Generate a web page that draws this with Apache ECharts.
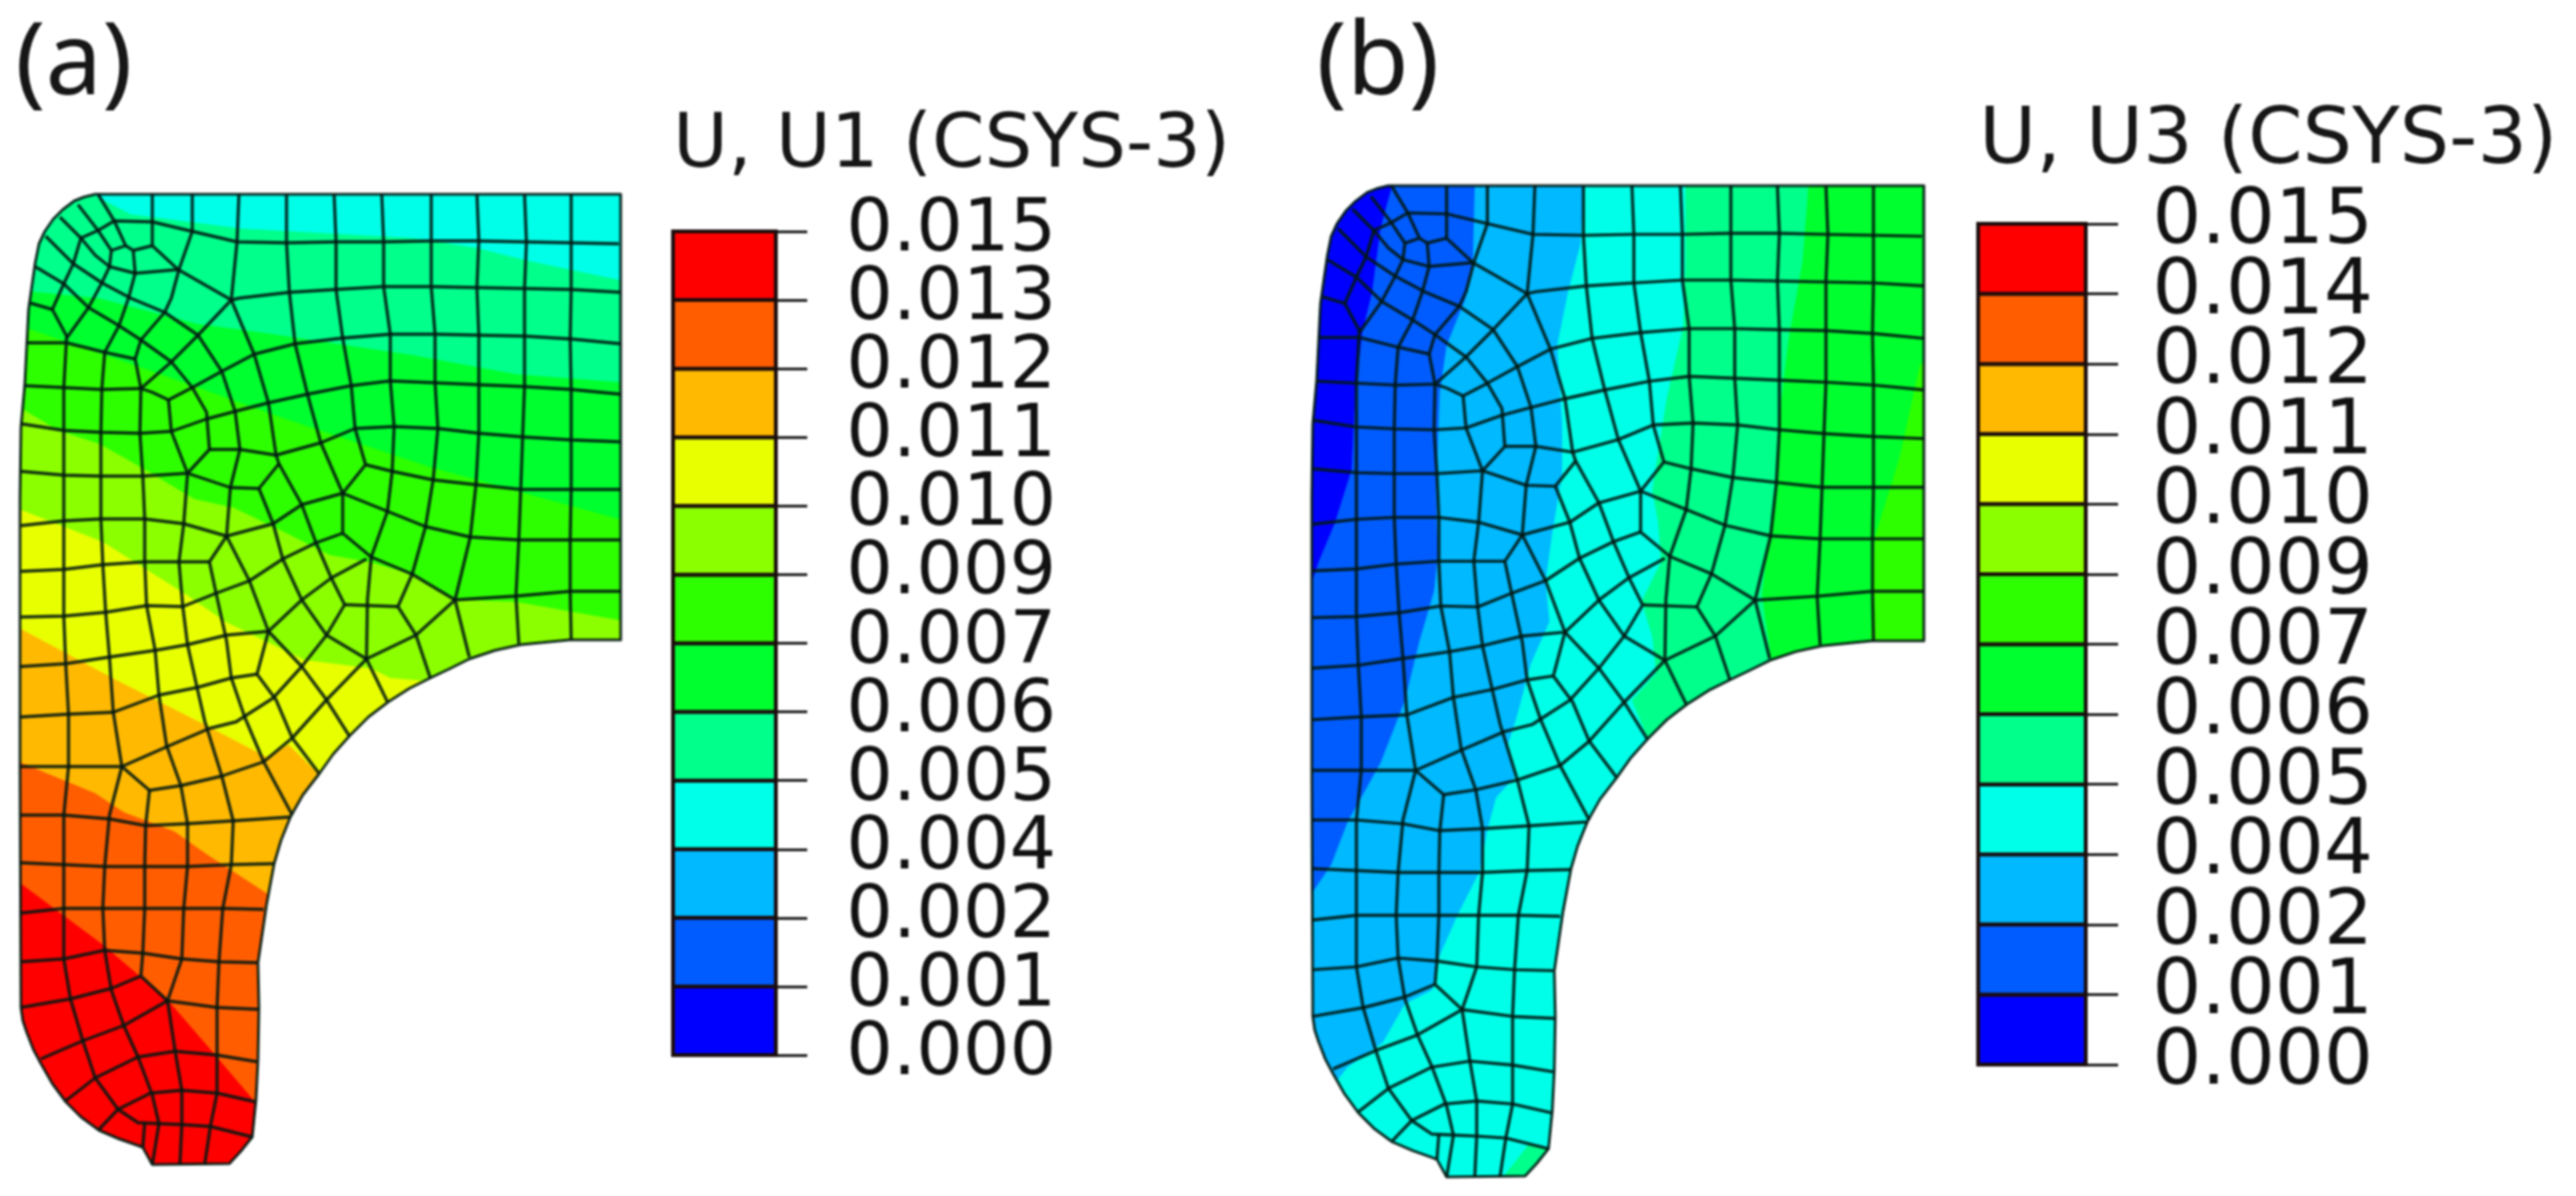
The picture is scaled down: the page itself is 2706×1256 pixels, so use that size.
<!DOCTYPE html>
<html>
<head>
<meta charset="utf-8">
<style>html,body{margin:0;padding:0;background:#fff}#c{width:2706px;height:1256px;filter:blur(0.9px)}</style>
<script src="https://cdn.jsdelivr.net/npm/echarts@6/dist/echarts.min.js"></script>
</head>
<body>
<div id="c"></div>
<script>
// Legend values, top to bottom
const tickLabelsA = ['0.015','0.013','0.012','0.011','0.010','0.009','0.007','0.006','0.005','0.004','0.002','0.001','0.000'];
const tickLabelsB = ['0.015','0.014','0.012','0.011','0.010','0.009','0.007','0.006','0.005','0.004','0.002','0.001','0.000'];
// Contour colours, lowest band first
const bandColors = ['#0000ff','#005cff','#00b9ff','#00ffe8','#00ff8b','#00ff2e','#2eff00','#8bff00','#e8ff00','#ffb900','#ff5d00','#ff0000'];

// Part outline, in model units
const outline = [[652,204],[100,204],[88,207],[78,211],[66,220],[56,230],[47,243],[41,256],[37,276],[30,325],[26,404],[22,449],[21,524],[21,700],[21,805],[22,1058],[24,1072],[28,1084],[35,1102],[43,1117],[55,1138],[69,1157],[85,1173],[104,1187],[125,1196],[145,1203],[150,1205],[160,1223],[241,1222],[253,1209],[265,1194],[269,1154],[271,1113],[272,1058],[271,1011],[280,950],[288,907],[295,883],[305,858],[318,835],[335,813],[350,792],[367,773],[387,753],[408,737],[430,723],[452,712],[473,702],[493,692],[520,683],[547,677],[598,672],[652,672]];

// Element edges of the mesh, in model units
const meshColumns = [
 [[600,204],[600,255],[600,304],[599,356],[600,409],[600,462],[600,514],[599,567],[599,621],[600,672]],
 [[551,204],[553,254],[551,303],[551,353],[551,406],[549,459],[547,514],[545,567],[542,626],[545,676]],
 [[501,204],[503,253],[501,302],[503,352],[503,404],[503,455],[500,509],[494,564],[478,630],[493,690]],
 [[453,204],[453,253],[453,301],[457,351],[457,402],[460,450],[455,504],[447,553],[433,603],[418,637],[437,667],[452,712]],
 [[401,204],[403,254],[403,301],[410,351],[410,400],[414,448],[412,495],[407,537],[390,585],[386,630],[385,692],[407,737]],
 [[351,204],[353,254],[353,304],[360,355],[369,405],[373,450],[384,488],[360,518]],
 [[301,204],[301,255],[304,307],[310,361],[323,414],[337,465],[360,518],[360,560],[390,585],[433,603],[478,630]],
 [[251,204],[249,254],[243,315],[267,372],[282,423],[290,478],[293,487],[317,530],[332,570],[348,607],[362,635],[343,667],[317,700],[287,733],[248,758],[220,765],[178,783],[128,805],[115,856],[110,910],[108,954],[110,998],[117,1040],[130,1077],[145,1110],[160,1150],[167,1180],[160,1223]],
 [[202,204],[202,243],[188,283],[180,313],[173,328],[148,357],[142,377],[148,408],[147,455],[150,500],[152,545],[152,590],[154,636],[163,683],[167,730],[175,783],[190,825],[197,865],[197,910],[193,954],[191,1007],[176,1051],[184,1104],[191,1145],[191,1181],[189,1223]],
 [[160,204],[160,233],[160,258],[187,283],[243,315]],
 [[103,204],[120,232],[132,258],[117,263],[115,280],[107,297],[93,323],[70,355]],
 [[140,263],[142,287],[135,313],[125,342],[110,370],[107,408],[106,454],[106,500],[106,545],[108,593],[111,643],[115,690],[119,748],[128,805]],
 [[157,830],[153,867],[152,910],[152,954],[150,1001],[148,1025],[176,1051]],
 [[243,315],[208,352],[180,380],[148,408]],
 [[180,453],[197,497]],
 [[177,420],[180,453]],
 [[150,1205],[152,1179]],
 [[282,663],[270,708],[290,735],[307,775],[335,812]]
];
const meshRows = [
 [[650,256],[600,255],[551,254],[501,253],[453,253],[403,254],[353,254],[301,255],[249,254],[202,243],[160,233],[120,232],[103,242],[85,250],[77,277],[67,298],[55,325],[70,353],[67,407],[67,452],[67,499],[67,547],[67,598],[67,647],[69,697],[72,750],[72,805],[67,856],[67,908],[67,954],[67,1007],[74,1049],[87,1093],[100,1132],[124,1165],[145,1179],[167,1180]],
 [[652,307],[600,304],[551,303],[501,302],[453,301],[403,301],[353,304],[304,307],[252,313],[243,315]],
 [[652,361],[600,356],[551,353],[503,352],[457,351],[410,351],[360,355],[310,361],[267,372],[233,390],[202,407],[177,420],[160,412],[148,408],[107,409],[67,407],[26,405]],
 [[652,414],[600,409],[551,406],[503,404],[457,402],[410,400],[369,405],[323,414],[282,423],[247,432],[217,440],[180,453],[147,455],[106,454],[67,452],[22,445]],
 [[652,464],[600,462],[551,459],[503,455],[460,450],[414,448],[373,450],[337,465],[290,478],[252,472],[220,472]],
 [[293,487],[272,513],[242,512],[197,497],[150,500],[106,500],[67,499],[22,495]],
 [[652,514],[600,514],[547,514],[500,509],[455,504],[412,495],[384,488]],
 [[652,567],[599,567],[545,567],[494,564],[447,553],[407,537],[360,518],[317,530],[287,550],[238,563],[193,550],[152,545],[106,545],[67,547],[22,552]],
 [[272,513],[287,550],[297,587],[317,630],[343,667],[385,692]],
 [[360,560],[332,570],[297,587],[262,610],[227,623],[192,637],[154,636],[111,643],[67,647],[22,648]],
 [[238,563],[262,610],[282,663],[317,700],[343,735],[367,773]],
 [[220,590],[188,590],[152,590],[108,593],[67,598],[22,600]],
 [[652,621],[599,621],[542,626],[478,630],[437,667],[385,692],[343,735],[307,775],[277,800],[233,815],[190,825],[157,830],[128,805],[100,805],[21,805]],
 [[385,587],[348,607],[317,630],[282,663],[238,667],[197,677],[163,683],[115,690],[69,697],[21,700]],
 [[362,635],[418,637]],
 [[270,708],[243,712],[207,722],[167,730],[119,748],[72,750],[21,753]],
 [[21,856],[67,856],[115,860],[153,867],[197,865],[245,862],[305,858]],
 [[21,906],[67,908],[110,910],[152,910],[197,910],[243,908],[288,907]],
 [[21,959],[67,954],[108,954],[152,954],[193,954],[234,954],[277,955]],
 [[22,1010],[67,1007],[110,998],[150,1001],[191,1007],[230,1010],[270,1011]],
 [[22,1058],[74,1049],[117,1038],[148,1025]],
 [[43,1112],[87,1093],[130,1077],[176,1051],[228,1058],[272,1060]],
 [[69,1156],[100,1132],[145,1110],[184,1104],[228,1108],[270,1115]],
 [[104,1186],[124,1165],[158,1148],[191,1145],[228,1148],[268,1157]],
 [[167,1180],[191,1181],[221,1183],[265,1194]],
 [[28,360],[70,360],[110,370],[142,377]],
 [[31,318],[55,325]]
];
const meshRadials = [
 [[63,228],[85,250],[100,268],[115,280],[142,287],[188,283]],
 [[82,215],[103,242],[117,263]],
 [[160,258],[140,263],[132,258]],
 [[48,248],[77,277],[107,297],[137,313],[173,328],[208,352],[233,390],[247,432],[252,472],[242,512],[238,563],[220,590],[227,623],[238,673],[243,712],[257,753],[277,800],[307,856]],
 [[37,280],[67,298],[93,323],[125,342],[148,357],[180,380],[202,407],[217,433],[220,472],[197,497],[193,550],[188,590],[192,637],[197,677],[207,722],[215,757],[233,815],[245,862],[243,908],[234,954],[230,1010],[228,1058],[228,1108],[228,1148],[221,1183],[215,1223]]
];
const meshLines = meshColumns.concat(meshRows, meshRadials);

// Contour edges of panel (a), running left to right; each band lies below its edge
const edgeA_8B = [[0,195],[90,200],[137,225],[253,240],[434,250],[499,260],[551,273],[598,283],[660,296]];
const edgeA_2E = [[0,303],[103,313],[207,340],[280,350],[434,373],[542,393],[660,402]];
const edgeA_G  = [[0,335],[160,390],[300,440],[450,490],[660,548]];
const edgeA_L  = [[0,416],[21,428],[61,452],[104,466],[147,490],[204,524],[245,533],[297,558],[347,583],[387,590],[433,603],[478,630],[542,632],[660,653]];
const edgeA_Y  = [[0,525],[21,535],[108,569],[195,624],[237,653],[320,693],[390,702],[410,712],[460,716]];
const edgeA_Am = [[0,650],[21,660],[120,713],[213,760],[280,795],[303,782],[335,813],[400,850]];
const edgeA_Or = [[0,790],[20,800],[100,833],[130,853],[183,873],[217,897],[280,938],[320,965]];
const edgeA_Re = [[0,910],[22,928],[108,992],[176,1050],[221,1102],[272,1162],[300,1200]];

// Contour edges of panel (b), running top to bottom; each band lies left of its edge
const edgeB_2E = [[660,380],[648,388],[627,483],[601,567],[597,675],[597,720]];
const edgeB_8B = [[533,190],[533,203],[527,281],[512,365],[502,449],[499,517],[491,571],[485,625],[495,695],[500,730]];
const edgeB_E8 = [[406,190],[406,281],[404,348],[387,422],[372,517],[378,550],[381,591],[361,631],[372,668],[376,705],[351,733],[368,774],[385,794]];
const edgeB_B9 = [[302,190],[302,203],[298,264],[285,314],[274,368],[279,449],[279,500],[268,567],[262,611],[266,652],[247,695],[232,751],[223,779],[230,812],[211,833],[202,866],[194,909],[172,952],[153,995],[145,1031],[117,1045],[94,1085],[58,1110],[32,1143],[15,1155]];
const edgeB_5C = [[189,190],[189,203],[187,281],[179,321],[160,368],[153,416],[149,517],[151,584],[147,621],[132,672],[117,733],[92,797],[58,858],[41,902],[22,930],[10,945]];
const edgeB_00 = [[104,190],[104,203],[92,247],[83,314],[73,355],[66,416],[62,496],[45,550],[28,591],[20,614],[10,625]];
const patchB_8B = [[219,1222],[245,1189],[268,1195],[300,1240],[219,1240]];

const below = e => e.concat([[e[e.length-1][0]+40, e[e.length-1][1]+600],[-40,1320],[-40,e[0][1]]]);
const leftOf = e => e.concat([[e[e.length-1][0],1320],[-40,1320],[-40,180],[e[0][0],180]]);

const layersA = [
 {color:bandColors[3], pts:outline},
 {color:bandColors[4], pts:below(edgeA_8B)},
 {color:bandColors[5], pts:below(edgeA_2E)},
 {color:bandColors[6], pts:below(edgeA_G)},
 {color:bandColors[7], pts:below(edgeA_L)},
 {color:bandColors[8], pts:below(edgeA_Y)},
 {color:bandColors[9], pts:below(edgeA_Am)},
 {color:bandColors[10], pts:below(edgeA_Or)},
 {color:bandColors[11], pts:below(edgeA_Re)}
];
const layersB = [
 {color:bandColors[6], pts:outline},
 {color:bandColors[5], pts:leftOf(edgeB_2E)},
 {color:bandColors[4], pts:leftOf(edgeB_8B)},
 {color:bandColors[3], pts:leftOf(edgeB_E8)},
 {color:bandColors[2], pts:leftOf(edgeB_B9)},
 {color:bandColors[1], pts:leftOf(edgeB_5C)},
 {color:bandColors[0], pts:leftOf(edgeB_00)},
 {color:bandColors[4], pts:patchB_8B}
];

const MESH_STROKE = 'rgba(2,24,18,0.88)';
const mapPts = (pts, api) => pts.map(p => api.coord(p));

function bandSeries(axis, layers){
  return {type:'custom', coordinateSystem:'cartesian2d', xAxisIndex:axis, yAxisIndex:axis, silent:true, animation:false, clip:false, z:2,
    data:layers.map((l,i)=>[i]),
    renderItem(params, api){
      const l = layers[params.dataIndex];
      return {type:'polygon', shape:{points:mapPts(l.pts, api)}, style:{fill:l.color, stroke:null},
              clipPath:{type:'polygon', shape:{points:mapPts(outline, api)}}};
    }};
}
function meshSeries(axis){
  return {type:'custom', coordinateSystem:'cartesian2d', xAxisIndex:axis, yAxisIndex:axis, silent:true, animation:false, clip:false, z:3,
    data:meshLines.map((l,i)=>[i]),
    renderItem(params, api){
      return {type:'polyline', shape:{points:mapPts(meshLines[params.dataIndex], api)},
              style:{fill:null, stroke:MESH_STROKE, lineWidth:3.4, lineJoin:'round'}};
    }};
}
function outlineSeries(axis){
  return {type:'custom', coordinateSystem:'cartesian2d', xAxisIndex:axis, yAxisIndex:axis, silent:true, animation:false, clip:false, z:4,
    data:[[0]],
    renderItem(params, api){
      const pts = mapPts(outline, api);
      return {type:'polygon', shape:{points:pts}, style:{fill:null, stroke:MESH_STROKE, lineWidth:3, lineJoin:'round'}};
    }};
}
function legendSeries(axis){
  return {type:'custom', coordinateSystem:'cartesian2d', xAxisIndex:axis, yAxisIndex:axis, silent:true, animation:false, clip:false, z:3,
    data:bandColors.map((c,i)=>[i]),
    renderItem(params, api){
      const i = params.dataIndex;
      const a = api.coord([0,i+1]), b = api.coord([1,i]);
      return {type:'rect', shape:{x:a[0], y:a[1], width:b[0]-a[0], height:b[1]-a[1]},
              style:{fill:bandColors[i], stroke:'#1a0c0c', lineWidth:4}};
    }};
}
function legendLabelSeries(axis, labels, fontSize, margin, dy){
  return {type:'custom', coordinateSystem:'cartesian2d', xAxisIndex:axis, yAxisIndex:axis, silent:true, animation:false, clip:false, z:5,
    data:labels.map((t,i)=>[i]),
    renderItem(params, api){
      const i = params.dataIndex;
      const p = api.coord([1, 12-i]);
      return {type:'text', style:{text:labels[i], x:p[0]+margin, y:p[1]+dy, fill:'#111', fontFamily:'DejaVu Sans', fontSize, textAlign:'left', textVerticalAlign:'middle'}};
    }};
}
const hiddenX = (min,max)=>({type:'value', show:false, min, max});
const hiddenY = (min,max)=>({type:'value', show:false, min, max, inverse:true});
const legendY = (gridIndex, tick)=>({
  type:'value', gridIndex, min:0, max:12, interval:1, position:'right',
  axisLine:{show:true, onZero:false, lineStyle:{color:'#1a0c0c', width:3}},
  axisTick:{show:true, inside:false, length:tick, lineStyle:{color:'#222', width:3}},
  splitLine:{show:false},
  axisLabel:{show:false}
});
const titleText = (text,left,top,fontSize,fontFamily)=>({text,left,top,padding:0,textStyle:{color:'#161616',fontWeight:'normal',fontFamily,fontSize}});

const chart = echarts.init(document.getElementById('c'), null, {renderer:'canvas', width:2706, height:1256});
chart.setOption({
  backgroundColor:'#ffffff',
  animation:false,
  title:[
    titleText('(a)',16,16,106,'Noto Sans'),
    titleText('(b)',1383,16,106,'Noto Sans'),
    titleText('U, U1 (CSYS-3)',707,115,79,'DejaVu Sans'),
    titleText('U, U3 (CSYS-3)',2079,109,82,'DejaVu Sans')
  ],
  grid:[
    {left:21, top:204, width:631, height:1019},
    {left:1378, top:195, width:643, height:1041},
    {left:707, top:243, width:108, height:865},
    {left:2078, top:235, width:113, height:883}
  ],
  xAxis:[
    {gridIndex:0, ...hiddenX(21,652)},
    {gridIndex:1, ...hiddenX(21,652)},
    {gridIndex:2, ...hiddenX(0,1)},
    {gridIndex:3, ...hiddenX(0,1)}
  ],
  yAxis:[
    {gridIndex:0, ...hiddenY(204,1223)},
    {gridIndex:1, ...hiddenY(204,1223)},
    legendY(2, 33),
    legendY(3, 34)
  ],
  series:[
    bandSeries(0,layersA), meshSeries(0), outlineSeries(0),
    bandSeries(1,layersB), meshSeries(1), outlineSeries(1),
    legendSeries(2), legendSeries(3),
    legendLabelSeries(2, tickLabelsA, 77, 74, 0),
    legendLabelSeries(3, tickLabelsB, 81, 70, -1)
  ]
});
</script>
</body>
</html>
